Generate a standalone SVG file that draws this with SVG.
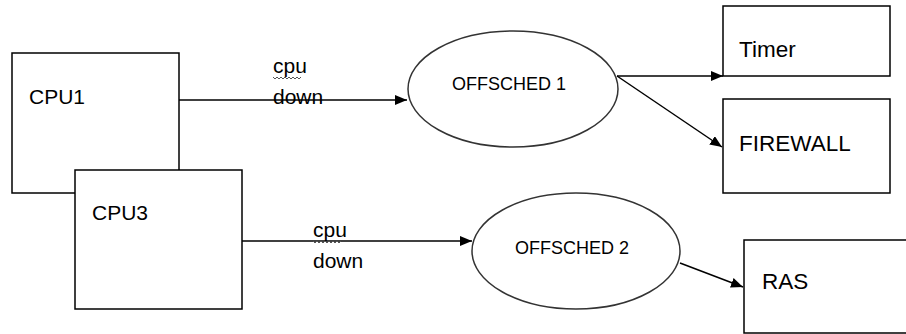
<svg xmlns="http://www.w3.org/2000/svg" width="906" height="334" viewBox="0 0 906 334">
  <style>
    .box { fill: #ffffff; stroke: #000000; stroke-width: 1.5; }
    .oval { fill: #ffffff; stroke: #333333; stroke-width: 1.5; }
    .lbl { font-family: "Liberation Sans", Arial, sans-serif; fill: #000000; }
    .big { font-size: 21px; }
    .tag { font-size: 22.5px; }
    .mid { font-size: 18px; }
    .edge { stroke: #000000; stroke-width: 1.5; fill: none; marker-end: url(#head); }
    .squiggle { stroke: #555555; stroke-width: 1; fill: none; }
  </style>
  <defs>
    <marker id="head" markerUnits="userSpaceOnUse" markerWidth="13" markerHeight="11" refX="12" refY="5" orient="auto">
      <path d="M0,0 L12,5 L0,10 z" fill="#000000"/>
    </marker>
  </defs>
  <rect x="0" y="0" width="906" height="334" fill="#ffffff"/>

  <g id="connectors">
    <line class="edge" x1="179" y1="100" x2="407" y2="100"/>
    <line class="edge" x1="242" y1="241" x2="472" y2="241"/>
    <line class="edge" x1="617" y1="76" x2="723" y2="76"/>
    <line class="edge" x1="617" y1="76" x2="722" y2="147"/>
    <line class="edge" x1="680" y1="263" x2="743" y2="287"/>
    <text class="lbl big" x="273" y="73">cpu</text>
    <polyline class="squiggle" points="273,77 275,79 277,77 279,79 281,77 283,79 285,77 287,79 289,77 291,79 293,77 295,79 297,77 299,79 301,77"/>
    <text class="lbl big" x="273" y="104">down</text>
    <text class="lbl big" x="313" y="237">cpu</text>
    <polyline class="squiggle" points="313,241 315,243 317,241 319,243 321,241 323,243 325,241 327,243 329,241 331,243 333,241 335,243 337,241 339,243 341,241"/>
    <text class="lbl big" x="313" y="268">down</text>
  </g>

  <g id="cpu1">
    <rect class="box" x="12" y="53" width="167" height="140"/>
    <text class="lbl big" x="29" y="104">CPU1</text>
  </g>

  <g id="cpu3">
    <rect class="box" x="75" y="170" width="167" height="139"/>
    <text class="lbl big" x="92" y="220">CPU3</text>
  </g>

  <g id="offsched1">
    <ellipse class="oval" cx="513" cy="89" rx="105" ry="58"/>
    <text class="lbl mid" x="452" y="90">OFFSCHED 1</text>
  </g>

  <g id="offsched2">
    <ellipse class="oval" cx="576" cy="251" rx="104" ry="58"/>
    <text class="lbl mid" x="515" y="254">OFFSCHED 2</text>
  </g>

  <g id="timer">
    <rect class="box" x="723" y="6" width="167" height="70"/>
    <text class="lbl tag" x="739" y="57">Timer</text>
  </g>

  <g id="firewall">
    <rect class="box" x="723" y="99" width="167" height="94"/>
    <text class="lbl tag" x="739" y="151">FIREWALL</text>
  </g>

  <g id="ras">
    <rect class="box" x="744" y="240" width="170" height="93"/>
    <text class="lbl tag" x="762" y="289">RAS</text>
  </g>
</svg>
